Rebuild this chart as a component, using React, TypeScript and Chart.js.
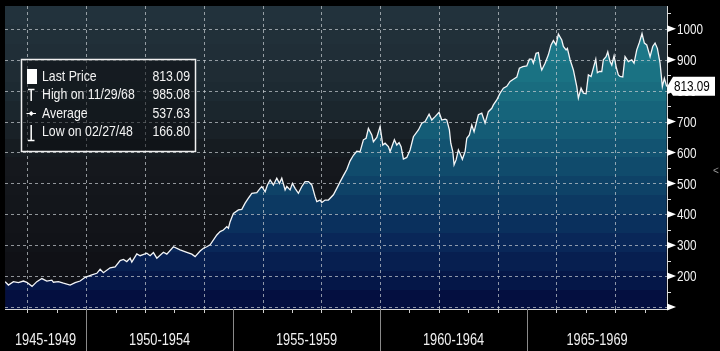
import { useEffect, useRef } from "react";
import { Chart, registerables } from "chart.js";

Chart.register(...registerables);

// ---------- data ----------
const years = [
  1947.245, 1947.357, 1947.527, 1947.697, 1947.867, 1947.983, 1948.16, 1948.323, 1948.493, 1948.663,
  1948.833, 1948.888, 1949.058, 1949.228, 1949.456, 1949.626, 1949.796, 1949.966, 1950.194, 1950.364,
  1950.476, 1950.588, 1950.816, 1950.986, 1951.156, 1951.269, 1951.384, 1951.497, 1951.554, 1951.724,
  1951.837, 1952.065, 1952.177, 1952.289, 1952.405, 1952.629, 1952.745, 1952.969, 1953.197, 1953.425,
  1953.595, 1953.707, 1953.878, 1953.99, 1954.105, 1954.218, 1954.446, 1954.558, 1954.67, 1954.786,
  1954.84, 1954.898, 1955.01, 1955.18, 1955.296, 1955.408, 1955.52, 1955.636, 1955.806, 1955.918,
  1955.976, 1956.088, 1956.167, 1956.259, 1956.371, 1956.486, 1956.575, 1956.656, 1956.769, 1956.827,
  1956.939, 1957.017, 1957.109, 1957.221, 1957.337, 1957.449, 1957.561, 1957.677, 1957.789, 1957.847,
  1957.959, 1958.017, 1958.129, 1958.241, 1958.412, 1958.527, 1958.639, 1958.752, 1958.867, 1958.98,
  1959.092, 1959.207, 1959.32, 1959.432, 1959.524, 1959.602, 1959.718, 1959.772, 1959.888, 1960.0,
  1960.092, 1960.17, 1960.282, 1960.34, 1960.486, 1960.568, 1960.646, 1960.714, 1960.793, 1960.908,
  1961.02, 1961.133, 1961.303, 1961.418, 1961.531, 1961.667, 1961.758, 1961.871, 1962.007, 1962.099,
  1962.211, 1962.269, 1962.357, 1962.405, 1962.473, 1962.517, 1962.585, 1962.663, 1962.721, 1962.799,
  1962.891, 1962.949, 1963.037, 1963.119, 1963.197, 1963.344, 1963.459, 1963.571, 1963.684, 1963.799,
  1963.854, 1963.969, 1964.082, 1964.194, 1964.31, 1964.422, 1964.534, 1964.65, 1964.738, 1964.854,
  1964.99, 1965.078, 1965.16, 1965.214, 1965.306, 1965.384, 1965.466, 1965.5, 1965.612, 1965.724,
  1965.816, 1965.895, 1965.986, 1966.065, 1966.18, 1966.235, 1966.327, 1966.371, 1966.463, 1966.575,
  1966.691, 1966.745, 1966.837, 1966.915, 1967.007, 1967.085, 1967.177, 1967.255, 1967.337, 1967.391,
  1967.459, 1967.541, 1967.595, 1967.687, 1967.745, 1967.823, 1967.881, 1967.959, 1968.027, 1968.105,
  1968.163, 1968.255, 1968.333, 1968.446, 1968.561, 1968.639, 1968.731, 1968.82, 1968.91, 1968.99,
  1969.071, 1969.184, 1969.275, 1969.354, 1969.432, 1969.524, 1969.602, 1969.67, 1969.75,
];
const prices = [
  182, 171, 182, 179, 184, 180, 166.8, 182, 192, 184,
  187, 180, 182, 177, 171, 179, 184, 196, 204, 209,
  222, 211, 227, 230, 250, 254, 247, 258, 245, 272,
  266, 274, 266, 276, 258, 277, 271, 295, 285, 277,
  271, 263, 281, 290, 295, 301, 333, 344, 349, 360,
  355, 376, 403, 414, 416, 436, 452, 468, 470, 484,
  490, 473, 495, 511, 495, 517, 500, 517, 479, 490,
  479, 500, 484, 468, 490, 506, 506, 495, 457, 441,
  446, 438, 446, 446, 463, 484, 505, 525, 545, 573,
  591, 604, 603, 641, 646, 678, 657, 635, 649, 684,
  624, 630, 619, 603, 641, 624, 632, 619, 579, 584,
  608, 651, 673, 695, 700, 724, 705, 716, 730, 705,
  708, 705, 673, 630, 603, 560, 576, 608, 597, 578,
  603, 646, 657, 689, 667, 722, 727, 695, 732, 743,
  754, 770, 792, 808, 814, 830, 837, 844, 873, 878,
  880, 902, 902, 889, 921, 923, 878, 867, 889, 916,
  948, 962, 948, 983, 964, 943, 932, 937, 900, 867,
  813, 776, 808, 792, 790, 851, 846, 873, 902, 858,
  862, 862, 900, 910, 926, 894, 883, 913, 878, 851,
  846, 844, 910, 894, 900, 889, 932, 956, 985.08, 954,
  948, 910, 943, 954, 937, 889, 813, 840, 813.09,
];

const yTickValues = [100, 200, 300, 400, 500, 600, 700, 800, 900, 1000];
const yTickLabels = ["", "200", "300", "400", "500", "600", "700", "800", "900", "1000"];
const yMinorTicks = [150, 250, 350, 450, 550, 650, 750, 850, 950, 1050];
const yearTicks = [1948, 1949, 1950, 1951, 1952, 1953, 1954, 1955, 1956, 1957, 1958, 1959, 1960, 1961, 1962, 1963, 1964, 1965, 1966, 1967, 1968, 1969];
const gridYears = [1948, 1950, 1952, 1954, 1956, 1958, 1960, 1962, 1964, 1966, 1968];
const periodStarts = [1945, 1950, 1955, 1960, 1965];
const periodLabels = ["1945-1949", "1950-1954", "1955-1959", "1960-1964", "1965-1969"];
const legendLabels = ["Last Price", "High on 11/29/68", "Average", "Low on 02/27/48"];
const legendValues = ["813.09", "985.08", "537.63", "166.80"];
const lastPriceValue = 813.09;
const lastPriceLabel = "813.09";

const X_MIN = 1947.24;
const X_MAX = 1969.76;
const Y_MIN = 93.5;
const Y_MAX = 1074;

// ---------- styles ----------
type RGB = [number, number, number];
const BG_STOPS: [number, RGB][] = [
  [0, [35, 51, 61]],
  [0.3, [29, 41, 49]],
  [0.5, [21, 25, 30]],
  [1, [13, 14, 19]],
];
const FILL_STOPS: [number, RGB][] = [
  [0, [33, 134, 146]],
  [0.3, [24, 106, 126]],
  [0.55, [15, 72, 107]],
  [0.8, [8, 36, 86]],
  [1, [3, 11, 60]],
];
const FONT = '"Liberation Sans", Arial, sans-serif';

function interp(stops: [number, RGB][], t: number): string {
  for (let i = 0; i < stops.length - 1; i++) {
    const [t0, c0] = stops[i];
    const [t1, c1] = stops[i + 1];
    if (t >= t0 && t <= t1) {
      const f = (t - t0) / (t1 - t0);
      const c = c0.map((v, k) => Math.round(v + (c1[k] - v) * f));
      return `rgb(${c[0]},${c[1]},${c[2]})`;
    }
  }
  const c = stops[stops.length - 1][1];
  return `rgb(${c[0]},${c[1]},${c[2]})`;
}

function bandGradient(ctx: CanvasRenderingContext2D, top: number, bottom: number, stops: [number, RGB][], bands: number) {
  const g = ctx.createLinearGradient(0, top, 0, bottom);
  for (let i = 0; i < bands; i++) {
    const t0 = i / bands;
    const t1 = (i + 1) / bands;
    const c = interp(stops, (t0 + t1) / 2);
    g.addColorStop(t0, c);
    g.addColorStop(Math.min(1, t1 - 0.0001), c);
  }
  return g;
}

function txt(ctx: CanvasRenderingContext2D, s: string, x: number, y: number, align: "left" | "right" | "center", size: number, color: string, sx = 0.8) {
  ctx.save();
  ctx.font = `${size}px ${FONT}`;
  ctx.fillStyle = color;
  ctx.textBaseline = "middle";
  ctx.textAlign = "left";
  const w = ctx.measureText(s).width * sx;
  const left = align === "left" ? x : align === "right" ? x - w : x - w / 2;
  ctx.translate(left, y);
  ctx.scale(sx, 1);
  ctx.fillText(s, 0, 0);
  ctx.restore();
}

const bloombergPlugin = {
  id: "bloomberg",
  beforeDraw(chart: any) {
    const { ctx, chartArea: a } = chart;
    ctx.save();
    ctx.fillStyle = "#000";
    ctx.fillRect(0, 0, chart.width, chart.height);
    ctx.fillStyle = bandGradient(ctx, a.top, a.bottom, BG_STOPS, 16);
    ctx.fillRect(a.left, a.top, a.right - a.left, a.bottom - a.top);
    ctx.restore();
  },
  afterDatasetDraw(chart: any, args: any) {
    if (args.index !== 0) return;
    const { ctx, chartArea: a, scales } = chart;
    const xs = scales.x;
    const ys = scales.y;
    ctx.save();
    ctx.strokeStyle = "rgba(200,205,210,0.7)";
    ctx.lineWidth = 1;
    ctx.setLineDash([3, 3]);
    for (const v of yTickValues) {
      const y = Math.round(ys.getPixelForValue(v)) + 0.5;
      ctx.beginPath();
      ctx.moveTo(a.left, y);
      ctx.lineTo(a.right, y);
      ctx.stroke();
    }
    for (const yr of gridYears) {
      const x = Math.round(xs.getPixelForValue(yr)) + 0.5;
      ctx.beginPath();
      ctx.moveTo(x, a.top);
      ctx.lineTo(x, a.bottom);
      ctx.stroke();
    }
    ctx.restore();
  },
  afterDraw(chart: any) {
    const { ctx, chartArea: a, scales } = chart;
    const xs = scales.x;
    const ys = scales.y;
    const H = chart.height;
    ctx.save();
    // axes lines
    ctx.strokeStyle = "#d8d8d8";
    ctx.lineWidth = 1;
    ctx.beginPath();
    ctx.moveTo(a.right + 0.5, a.top);
    ctx.lineTo(a.right + 0.5, a.bottom + 1);
    ctx.stroke();
    ctx.beginPath();
    ctx.moveTo(a.left, a.bottom + 0.5);
    ctx.lineTo(a.right, a.bottom + 0.5);
    ctx.stroke();
    // y ticks: triangles + labels
    ctx.fillStyle = "#fff";
    yTickValues.forEach((v, i) => {
      const y = ys.getPixelForValue(v);
      ctx.fillStyle = "#fff";
      ctx.beginPath();
      ctx.moveTo(a.right, y - 3.5);
      ctx.lineTo(a.right + 9, y);
      ctx.lineTo(a.right, y + 3.5);
      ctx.closePath();
      ctx.fill();
      if (yTickLabels[i]) txt(ctx, yTickLabels[i], a.right + 10, y + 1, "left", 15, "#f2f2f2", 0.78);
    });
    ctx.strokeStyle = "#e0e0e0";
    for (const v of yMinorTicks) {
      const y = Math.round(ys.getPixelForValue(v)) + 0.5;
      ctx.beginPath();
      ctx.moveTo(a.right, y);
      ctx.lineTo(a.right + 4, y);
      ctx.stroke();
    }
    // last price label
    const ly = ys.getPixelForValue(lastPriceValue);
    ctx.fillStyle = "#fff";
    ctx.beginPath();
    ctx.moveTo(a.right, ly);
    ctx.lineTo(a.right + 6, ly - 10);
    ctx.lineTo(715, ly - 10);
    ctx.lineTo(715, ly + 9);
    ctx.lineTo(a.right + 6, ly + 9);
    ctx.closePath();
    ctx.fill();
    txt(ctx, lastPriceLabel, a.right + 7, ly + 0.5, "left", 15, "#000", 0.78);
    // x ticks
    ctx.strokeStyle = "#cfcfcf";
    for (const yr of yearTicks) {
      const x = Math.round(xs.getPixelForValue(yr)) + 0.5;
      ctx.beginPath();
      ctx.moveTo(x, a.bottom);
      ctx.lineTo(x, a.bottom + 4);
      ctx.stroke();
    }
    ctx.strokeStyle = "#8a8a8a";
    periodStarts.forEach((ps, i) => {
      const x0 = xs.getPixelForValue(Math.max(ps, X_MIN));
      const x1 = xs.getPixelForValue(Math.min(ps + 5, X_MAX));
      if (ps > X_MIN) {
        const xl = Math.round(x0) + 0.5;
        ctx.beginPath();
        ctx.moveTo(xl, a.bottom);
        ctx.lineTo(xl, H);
        ctx.stroke();
      }
      txt(ctx, periodLabels[i], (x0 + x1) / 2, 340.5, "center", 16, "#f0f0f0", 0.8);
    });
    // legend
    const lx = 21, lyTop = 59, lw = 174, lh = 92;
    ctx.fillStyle = "rgba(12,14,18,0.55)";
    ctx.fillRect(lx, lyTop, lw, lh);
    ctx.strokeStyle = "#f0f0f0";
    ctx.lineWidth = 1.5;
    ctx.strokeRect(lx + 0.5, lyTop + 0.5, lw, lh);
    const rows = [76.5, 95, 113.5, 132];
    ctx.fillStyle = "#fff";
    ctx.strokeStyle = "#fff";
    ctx.lineWidth = 1.5;
    ctx.fillRect(27, 69, 10, 15);
    ctx.beginPath();
    ctx.moveTo(28, 89.5);
    ctx.lineTo(34.5, 89.5);
    ctx.moveTo(31.2, 89.5);
    ctx.lineTo(31.2, 101);
    ctx.stroke();
    ctx.lineWidth = 1;
    ctx.beginPath();
    ctx.moveTo(26.5, 113.5);
    ctx.lineTo(36, 113.5);
    ctx.stroke();
    ctx.beginPath();
    ctx.moveTo(31.2, 111);
    ctx.lineTo(33.7, 113.5);
    ctx.lineTo(31.2, 116);
    ctx.lineTo(28.7, 113.5);
    ctx.closePath();
    ctx.fill();
    ctx.lineWidth = 1.5;
    ctx.beginPath();
    ctx.moveTo(31.2, 125);
    ctx.lineTo(31.2, 140.5);
    ctx.moveTo(28, 140.5);
    ctx.lineTo(34.5, 140.5);
    ctx.stroke();
    legendLabels.forEach((s, i) => {
      txt(ctx, s, 42, rows[i], "left", 15, "#f4f4f4", 0.82);
      txt(ctx, legendValues[i], 190, rows[i], "right", 15, "#f4f4f4", 0.82);
    });
    txt(ctx, "<", 713, 171, "left", 10, "#9a9a9a", 1);
    ctx.restore();
  },
};

export default function App() {
  const canvasRef = useRef<HTMLCanvasElement | null>(null);
  useEffect(() => {
    const canvas = canvasRef.current;
    if (!canvas) return;
    const points = years.map((x, i) => ({ x, y: prices[i] }));
    const chart = new Chart(canvas, {
      type: "line",
      data: {
        datasets: [
          {
            data: points,
            order: 2,
            borderWidth: 0,
            borderColor: "rgba(0,0,0,0)",
            pointRadius: 0,
            tension: 0,
            fill: "start",
            backgroundColor: (c: any) => {
              const ch = c.chart;
              const a = ch.chartArea;
              if (!a) return "rgba(0,0,0,0)";
              return bandGradient(ch.ctx, a.top, a.bottom, FILL_STOPS, 16);
            },
          },
          {
            data: points,
            order: 1,
            borderWidth: 1.3,
            borderColor: "#f4f6f8",
            pointRadius: 0,
            tension: 0,
            fill: false,
          },
        ],
      },
      options: {
        animation: false,
        responsive: false,
        devicePixelRatio: 1,
        events: [],
        layout: { padding: { left: 5, top: 6, right: 53, bottom: 42 } },
        plugins: { legend: { display: false }, tooltip: { enabled: false }, title: { display: false } },
        scales: {
          x: { type: "linear", min: X_MIN, max: X_MAX, display: false },
          y: { type: "linear", min: Y_MIN, max: Y_MAX, display: false },
        },
      },
      plugins: [bloombergPlugin],
    } as any);
    return () => chart.destroy();
  }, []);
  return (
    <div style={{ position: "fixed", left: 0, top: 0, width: 720, height: 351, background: "#000" }}>
      <canvas ref={canvasRef} width={720} height={351} style={{ width: 720, height: 351, display: "block" }} />
    </div>
  );
}
